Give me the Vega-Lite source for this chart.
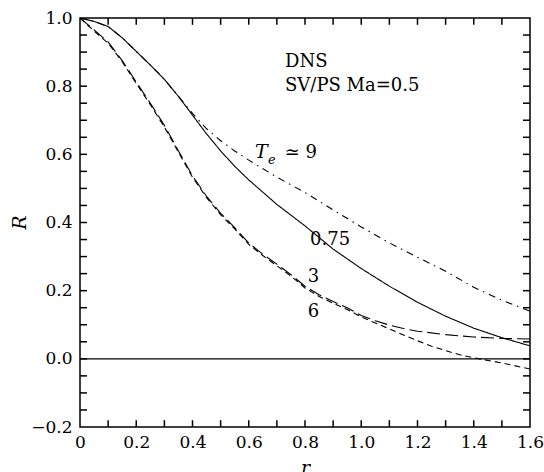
{
  "$schema": "https://vega.github.io/schema/vega-lite/v6.json",
  "width": 450,
  "height": 409,
  "autosize": {"type": "none"},
  "padding": {"left": 80, "top": 18, "right": 14, "bottom": 45},
  "background": "white",
  "config": {
    "view": {"stroke": "black", "strokeWidth": 1.5},
    "font": "DejaVu Serif",
    "axis": {"grid": false, "domain": false, "labelColor": "black", "titleColor": "black", "labelFont": "DejaVu Serif", "titleFont": "DejaVu Serif", "labelFontSize": 17, "titleFontSize": 19, "titleFontWeight": "normal", "labelFlush": false, "labelOverlap": false, "labelBound": false}
  },
  "resolve": {"axis": {"x": "independent", "y": "independent"}},
  "datasets": {
    "xt": [{"t": 0.1}, {"t": 0.2}, {"t": 0.3}, {"t": 0.4}, {"t": 0.5}, {"t": 0.6}, {"t": 0.7}, {"t": 0.8}, {"t": 0.9}, {"t": 1.0}, {"t": 1.1}, {"t": 1.2}, {"t": 1.3}, {"t": 1.4}, {"t": 1.5}],
    "yt": [{"t": -0.15}, {"t": -0.1}, {"t": -0.05}, {"t": 0}, {"t": 0.05}, {"t": 0.1}, {"t": 0.15}, {"t": 0.2}, {"t": 0.25}, {"t": 0.3}, {"t": 0.35}, {"t": 0.4}, {"t": 0.45}, {"t": 0.5}, {"t": 0.55}, {"t": 0.6}, {"t": 0.65}, {"t": 0.7}, {"t": 0.75}, {"t": 0.8}, {"t": 0.85}, {"t": 0.9}, {"t": 0.95}]
  },
  "layer": [
    {
      "data": {"values": [{"y": 0}]},
      "mark": {"type": "rule", "color": "black", "strokeWidth": 1.1},
      "encoding": {
        "y": {"field": "y", "type": "quantitative", "scale": {"domain": [-0.2, 1.0], "nice": false, "zero": false},
          "axis": {"orient": "left", "values": [-0.2, 0, 0.2, 0.4, 0.6, 0.8, 1.0], "format": ".1f",
            "ticks": false, "labelPadding": 8,
            "title": "R", "titleFontStyle": "italic", "titleX": -61, "titleY": 204, "titleAngle": -90, "titleAlign": "center", "titleBaseline": "middle"}}
      }
    },
    {
      "data": {"values": [
        {"s": "0.75", "x": 0, "y": 1.0}, {"s": "0.75", "x": 0.05, "y": 0.99}, {"s": "0.75", "x": 0.1, "y": 0.975}, {"s": "0.75", "x": 0.15, "y": 0.942}, {"s": "0.75", "x": 0.2, "y": 0.902}, {"s": "0.75", "x": 0.25, "y": 0.862}, {"s": "0.75", "x": 0.3, "y": 0.82}, {"s": "0.75", "x": 0.35, "y": 0.77}, {"s": "0.75", "x": 0.4, "y": 0.715}, {"s": "0.75", "x": 0.45, "y": 0.66}, {"s": "0.75", "x": 0.5, "y": 0.61}, {"s": "0.75", "x": 0.55, "y": 0.565}, {"s": "0.75", "x": 0.6, "y": 0.525}, {"s": "0.75", "x": 0.7, "y": 0.453}, {"s": "0.75", "x": 0.8, "y": 0.39}, {"s": "0.75", "x": 0.9, "y": 0.322}, {"s": "0.75", "x": 1.0, "y": 0.265}, {"s": "0.75", "x": 1.1, "y": 0.213}, {"s": "0.75", "x": 1.2, "y": 0.166}, {"s": "0.75", "x": 1.3, "y": 0.125}, {"s": "0.75", "x": 1.4, "y": 0.09}, {"s": "0.75", "x": 1.5, "y": 0.062}, {"s": "0.75", "x": 1.6, "y": 0.038},
        {"s": "9", "x": 0, "y": 1.0}, {"s": "9", "x": 0.05, "y": 0.99}, {"s": "9", "x": 0.1, "y": 0.975}, {"s": "9", "x": 0.15, "y": 0.942}, {"s": "9", "x": 0.2, "y": 0.902}, {"s": "9", "x": 0.25, "y": 0.862}, {"s": "9", "x": 0.3, "y": 0.82}, {"s": "9", "x": 0.35, "y": 0.77}, {"s": "9", "x": 0.4, "y": 0.72}, {"s": "9", "x": 0.45, "y": 0.675}, {"s": "9", "x": 0.5, "y": 0.64}, {"s": "9", "x": 0.55, "y": 0.61}, {"s": "9", "x": 0.6, "y": 0.583}, {"s": "9", "x": 0.7, "y": 0.533}, {"s": "9", "x": 0.8, "y": 0.488}, {"s": "9", "x": 0.9, "y": 0.437}, {"s": "9", "x": 1.0, "y": 0.387}, {"s": "9", "x": 1.1, "y": 0.34}, {"s": "9", "x": 1.2, "y": 0.298}, {"s": "9", "x": 1.3, "y": 0.257}, {"s": "9", "x": 1.4, "y": 0.21}, {"s": "9", "x": 1.5, "y": 0.172}, {"s": "9", "x": 1.6, "y": 0.14},
        {"s": "3", "x": 0, "y": 1.0}, {"s": "3", "x": 0.05, "y": 0.965}, {"s": "3", "x": 0.1, "y": 0.93}, {"s": "3", "x": 0.15, "y": 0.875}, {"s": "3", "x": 0.2, "y": 0.812}, {"s": "3", "x": 0.25, "y": 0.75}, {"s": "3", "x": 0.3, "y": 0.685}, {"s": "3", "x": 0.35, "y": 0.61}, {"s": "3", "x": 0.4, "y": 0.537}, {"s": "3", "x": 0.45, "y": 0.477}, {"s": "3", "x": 0.5, "y": 0.427}, {"s": "3", "x": 0.55, "y": 0.385}, {"s": "3", "x": 0.6, "y": 0.34}, {"s": "3", "x": 0.65, "y": 0.307}, {"s": "3", "x": 0.7, "y": 0.278}, {"s": "3", "x": 0.75, "y": 0.247}, {"s": "3", "x": 0.8, "y": 0.213}, {"s": "3", "x": 0.85, "y": 0.188}, {"s": "3", "x": 0.9, "y": 0.168}, {"s": "3", "x": 0.95, "y": 0.15}, {"s": "3", "x": 1.0, "y": 0.127}, {"s": "3", "x": 1.05, "y": 0.112}, {"s": "3", "x": 1.1, "y": 0.099}, {"s": "3", "x": 1.15, "y": 0.089}, {"s": "3", "x": 1.2, "y": 0.081}, {"s": "3", "x": 1.3, "y": 0.071}, {"s": "3", "x": 1.4, "y": 0.064}, {"s": "3", "x": 1.5, "y": 0.06}, {"s": "3", "x": 1.6, "y": 0.058},
        {"s": "6", "x": 0, "y": 1.0}, {"s": "6", "x": 0.05, "y": 0.962}, {"s": "6", "x": 0.1, "y": 0.926}, {"s": "6", "x": 0.15, "y": 0.872}, {"s": "6", "x": 0.2, "y": 0.808}, {"s": "6", "x": 0.25, "y": 0.746}, {"s": "6", "x": 0.3, "y": 0.68}, {"s": "6", "x": 0.35, "y": 0.606}, {"s": "6", "x": 0.4, "y": 0.533}, {"s": "6", "x": 0.45, "y": 0.473}, {"s": "6", "x": 0.5, "y": 0.423}, {"s": "6", "x": 0.55, "y": 0.381}, {"s": "6", "x": 0.6, "y": 0.336}, {"s": "6", "x": 0.65, "y": 0.303}, {"s": "6", "x": 0.7, "y": 0.273}, {"s": "6", "x": 0.75, "y": 0.243}, {"s": "6", "x": 0.8, "y": 0.208}, {"s": "6", "x": 0.85, "y": 0.183}, {"s": "6", "x": 0.9, "y": 0.163}, {"s": "6", "x": 0.95, "y": 0.145}, {"s": "6", "x": 1.0, "y": 0.123}, {"s": "6", "x": 1.05, "y": 0.105}, {"s": "6", "x": 1.1, "y": 0.088}, {"s": "6", "x": 1.15, "y": 0.07}, {"s": "6", "x": 1.2, "y": 0.053}, {"s": "6", "x": 1.25, "y": 0.037}, {"s": "6", "x": 1.3, "y": 0.024}, {"s": "6", "x": 1.35, "y": 0.012}, {"s": "6", "x": 1.4, "y": 0.003}, {"s": "6", "x": 1.5, "y": -0.012}, {"s": "6", "x": 1.6, "y": -0.03}
      ]},
      "mark": {"type": "line", "color": "black", "strokeWidth": 1.1, "clip": true},
      "encoding": {
        "x": {"field": "x", "type": "quantitative", "scale": {"domain": [0, 1.6], "nice": false, "zero": false},
          "axis": {"orient": "bottom", "values": [0, 0.2, 0.4, 0.6, 0.8, 1.0, 1.2, 1.4, 1.6],
            "labelExpr": "datum.value == 0 ? '0' : format(datum.value, '.1f')",
            "ticks": false, "labelPadding": 7,
            "title": "r", "titleFontStyle": "italic", "titleX": 225, "titleY": 46, "titleAlign": "center", "titleBaseline": "alphabetic"}},
        "y": {"field": "y", "type": "quantitative", "axis": null},
        "detail": {"field": "s"},
        "strokeDash": {"field": "s", "type": "nominal", "legend": null,
          "scale": {"domain": ["0.75", "3", "6", "9"], "range": [[1, 0], [13, 5], [6, 4], [7, 5, 1.5, 5]]}}
      }
    },
    {
      "data": {"name": "xt"},
      "mark": {"type": "rule", "color": "black", "strokeWidth": 1.5},
      "encoding": {
        "x": {"field": "t", "type": "quantitative", "axis": null},
        "y": {"datum": -0.2, "type": "quantitative", "axis": null},
        "y2": {"datum": -0.18}
      }
    },
    {
      "data": {"name": "xt"},
      "mark": {"type": "rule", "color": "black", "strokeWidth": 1.5},
      "encoding": {
        "x": {"field": "t", "type": "quantitative", "axis": null},
        "y": {"datum": 1.0, "type": "quantitative", "axis": null},
        "y2": {"datum": 0.98}
      }
    },
    {
      "data": {"name": "yt"},
      "mark": {"type": "rule", "color": "black", "strokeWidth": 1.5},
      "encoding": {
        "y": {"field": "t", "type": "quantitative", "axis": null},
        "x": {"datum": 0, "type": "quantitative", "axis": null},
        "x2": {"datum": 0.025}
      }
    },
    {
      "data": {"name": "yt"},
      "mark": {"type": "rule", "color": "black", "strokeWidth": 1.5},
      "encoding": {
        "y": {"field": "t", "type": "quantitative", "axis": null},
        "x": {"datum": 1.6, "type": "quantitative", "axis": null},
        "x2": {"datum": 1.575}
      }
    },
    {
      "data": {"values": [
        {"x": 0.729, "y": 0.856, "label": "DNS"},
        {"x": 0.729, "y": 0.786, "label": "SV/PS Ma=0.5"},
        {"x": 0.728, "y": 0.589, "label": "≃ 9"},
        {"x": 0.818, "y": 0.334, "label": "0.75"},
        {"x": 0.81, "y": 0.226, "label": "3"},
        {"x": 0.81, "y": 0.123, "label": "6"}
      ]},
      "mark": {"type": "text", "align": "left", "baseline": "alphabetic", "fontSize": 18, "font": "DejaVu Serif", "color": "black"},
      "encoding": {
        "x": {"field": "x", "type": "quantitative", "axis": null},
        "y": {"field": "y", "type": "quantitative", "axis": null},
        "text": {"field": "label"}
      }
    },
    {
      "data": {"values": [{"x": 0.622, "y": 0.589, "label": "T"}]},
      "mark": {"type": "text", "align": "left", "baseline": "alphabetic", "fontSize": 19, "fontStyle": "italic", "font": "DejaVu Serif", "color": "black"},
      "encoding": {
        "x": {"field": "x", "type": "quantitative", "axis": null},
        "y": {"field": "y", "type": "quantitative", "axis": null},
        "text": {"field": "label"}
      }
    },
    {
      "data": {"values": [{"x": 0.668, "y": 0.572, "label": "e"}]},
      "mark": {"type": "text", "align": "left", "baseline": "alphabetic", "fontSize": 13, "fontStyle": "italic", "font": "DejaVu Serif", "color": "black"},
      "encoding": {
        "x": {"field": "x", "type": "quantitative", "axis": null},
        "y": {"field": "y", "type": "quantitative", "axis": null},
        "text": {"field": "label"}
      }
    }
  ]
}
